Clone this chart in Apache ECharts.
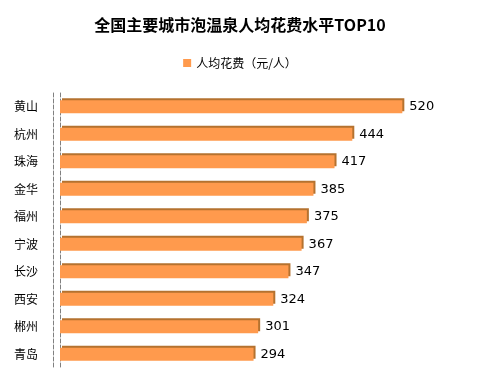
<!DOCTYPE html>
<html><head><meta charset="utf-8">
<script src="https://cdn.jsdelivr.net/npm/echarts@6/dist/echarts.min.js"></script>
<style>html,body{margin:0;padding:0;background:#fff}#c{width:480px;height:385px}</style>
</head><body><div id="c"></div>
<script>
const titleText = '全国主要城市泡温泉人均花费水平TOP10';
const seriesName = '人均花费（元/人）';
const cities = ['黄山','杭州','珠海','金华','福州','宁波','长沙','西安','郴州','青岛'];
const values = [520, 444, 417, 385, 375, 367, 347, 324, 301, 294];

const chart = echarts.init(document.getElementById('c'));
chart.setOption({
  animation: false,
  backgroundColor: '#fff',
  title: {
    text: titleText, left: 'center', top: 12,
    textStyle: {fontSize: 16, fontWeight: 'bold', color: '#000', fontFamily: 'Noto Sans CJK SC'}
  },
  legend: {
    top: 52, left: 'center', icon: 'rect', itemWidth: 8, itemHeight: 8, itemGap: 6,
    textStyle: {fontSize: 12, color: '#000', fontFamily: 'Noto Sans CJK SC'},
    data: [seriesName]
  },
  grid: {left: 60, right: 25, top: 93, bottom: 17},
  xAxis: {
    type: 'value', min: 0, max: 600, show: false
  },
  yAxis: [{
    type: 'category', data: cities, inverse: true,
    axisLine: {show: true, lineStyle: {color: '#808080', type: 'dashed', width: 1}},
    axisTick: {show: false},
    axisLabel: {fontSize: 12, color: '#000', margin: 22, fontFamily: 'Noto Sans CJK SC'}
  }, {
    type: 'category', data: cities, inverse: true, position: 'left', offset: 7,
    axisLine: {show: true, lineStyle: {color: '#808080', type: 'dashed', width: 1}},
    axisTick: {show: false}, axisLabel: {show: false}
  }],
  series: [{
    name: seriesName, type: 'bar', data: values, barWidth: 13,
    itemStyle: {
      color: '#FF9A4D',
      shadowColor: '#B5722F', shadowOffsetX: 2, shadowOffsetY: -2, shadowBlur: 0
    },
    label: {show: true, position: 'right', distance: 7, fontSize: 13, color: '#000', fontFamily: 'DejaVu Sans'}
  }]
});
</script></body></html>
